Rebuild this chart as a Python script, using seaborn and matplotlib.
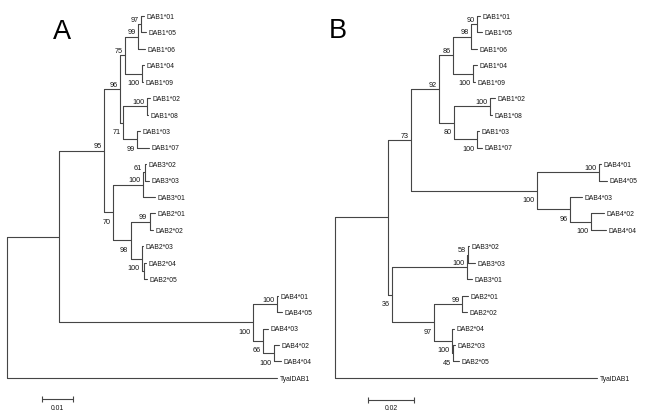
import matplotlib
matplotlib.use("Agg")
import matplotlib.pyplot as plt
import matplotlib.font_manager as fm
import numpy as np
import pandas as pd
import seaborn as sns

# ---------------- data: panel A (edge list, children in drawing order) ----------------
A_node = ["in", "n95", "n96", "n75", "n99a", "n97", "DAB1*01", "DAB1*05", "DAB1*06",
          "n100a", "DAB1*04", "DAB1*09", "n71", "n100b", "DAB1*02", "DAB1*08",
          "n99b", "DAB1*03", "DAB1*07", "n70", "n100c", "n61", "DAB3*02", "DAB3*03",
          "DAB3*01", "n98", "n99c", "DAB2*01", "DAB2*02", "n100d", "DAB2*03", "nX",
          "DAB2*04", "DAB2*05", "n100e", "n100f", "DAB4*01", "DAB4*05", "n66",
          "DAB4*03", "n100g", "DAB4*02", "DAB4*04", "TyalDAB1"]
A_parent = ["root", "in", "n95", "n96", "n75", "n99a", "n97", "n97", "n99a",
            "n75", "n100a", "n100a", "n96", "n71", "n100b", "n100b",
            "n71", "n99b", "n99b", "n95", "n70", "n100c", "n61", "n61",
            "n100c", "n70", "n98", "n99c", "n99c", "n98", "n100d", "n100d",
            "nX", "nX", "in", "n100e", "n100f", "n100f", "n100e",
            "n66", "n66", "n100g", "n100g", "root"]
A_length = [0.0165, 0.0142, 0.0051, 0.0016, 0.0041, 0.0009, 0.0009, 0.0016, 0.0022,
            0.0054, 0.0006, 0.0003, 0.0009, 0.0076, 0.0009, 0.0003,
            0.0044, 0.0009, 0.0038, 0.0028, 0.0095, 0.0006, 0.0003, 0.0013,
            0.0038, 0.0057, 0.0060, 0.0016, 0.0009, 0.0035, 0.0003, 0.0006,
            0.0006, 0.0009, 0.0614, 0.0076, 0.0003, 0.0016, 0.0032,
            0.0016, 0.0035, 0.0016, 0.0022, 0.0854]
A_support = [None, 95, 96, 75, 99, 97, None, None, None,
             100, None, None, 71, 100, None, None,
             99, None, None, 70, 100, 61, None, None,
             None, 98, 99, None, None, 100, None, None,
             None, None, 100, 100, None, None, 66,
             None, 100, None, None, None]
A_scale = 0.01
A_scale_label = "0.01"

# ---------------- data: panel B ----------------
B_node = ["in", "n73", "n92", "n86", "n98", "n90", "DAB1*01", "DAB1*05", "DAB1*06",
          "n100a", "DAB1*04", "DAB1*09", "n80", "n100b", "DAB1*02", "DAB1*08",
          "n100c", "DAB1*03", "DAB1*07", "n100d", "n100e", "DAB4*01", "DAB4*05",
          "n96", "DAB4*03", "n100f", "DAB4*02", "DAB4*04", "n36", "n100g", "n58",
          "DAB3*02", "DAB3*03", "DAB3*01", "n97", "n99", "DAB2*01", "DAB2*02",
          "n100h", "DAB2*04", "n45", "DAB2*03", "DAB2*05", "TyalDAB1"]
B_parent = ["root", "in", "n73", "n92", "n86", "n98", "n90", "n90", "n98",
            "n86", "n100a", "n100a", "n92", "n80", "n100b", "n100b",
            "n80", "n100c", "n100c", "n73", "n100d", "n100e", "n100e",
            "n100d", "n96", "n96", "n100f", "n100f", "in", "n36", "n100g",
            "n58", "n58", "n100g", "n36", "n97", "n99", "n99",
            "n97", "n100h", "n100h", "n45", "n45", "root"]
B_length = [0.0232, 0.0101, 0.0123, 0.0061, 0.0079, 0.0026, 0.0013, 0.0022, 0.0026,
            0.0088, 0.0018, 0.0009, 0.0066, 0.0158, 0.0022, 0.0009,
            0.0101, 0.0009, 0.0022, 0.0551, 0.0271, 0.0009, 0.0035,
            0.0144, 0.0053, 0.0092, 0.0057, 0.0066, 0.0018, 0.0328, 0.0004,
            0.0004, 0.0031, 0.0022, 0.0184, 0.0123, 0.0026, 0.0022,
            0.0079, 0.0009, 0.0004, 0.0009, 0.0026, 0.1147]
B_support = [None, 73, 92, 86, 98, 90, None, None, None,
             100, None, None, 80, 100, None, None,
             100, None, None, 100, 100, None, None,
             96, None, 100, None, None, 36, 100, 58,
             None, None, None, 97, 99, None, None,
             100, None, 45, None, None, None]
B_scale = 0.02
B_scale_label = "0.02"

# ---------------- style ----------------
sns.set_style("white")
LINE = "#454545"
TEXT = "#151515"


def has_font(name):
    try:
        fm.findfont(fm.FontProperties(family=name), fallback_to_default=False)
        return True
    except Exception:
        return False


if has_font("Liberation Sans Narrow"):
    SMALL_FAMILY = ["Liberation Sans Narrow", "Liberation Sans", "DejaVu Sans"]
else:
    SMALL_FAMILY = ["Liberation Sans", "DejaVu Sans"]
plt.rcParams["font.family"] = SMALL_FAMILY

W, H = 656, 418
PX = 72.0 / 100.0  # points per pixel at dpi 100
fig = plt.figure(figsize=(W / 100, H / 100), dpi=100)
fig.patch.set_facecolor("white")
renderer = fig.canvas.get_renderer()


def fit_size(sample, target_px):
    t = fig.text(0, 0, sample, fontsize=10)
    w = t.get_window_extent(renderer=renderer).width
    t.remove()
    return 10.0 * target_px / w


TIP_FS = min(fit_size("DAB1*01", 27.5), 6.0)
SUP_FS = min(fit_size("100", 12.0), 6.3)

TOP, STEP = 16.0, 16.45  # first tip pixel row, tip spacing in px


def layout(nodes, parents, lengths):
    children = {}
    for n, p in zip(nodes, parents):
        children.setdefault(p, []).append(n)
    blen = dict(zip(nodes, lengths))
    x, y = {}, {}
    counter = [0]

    def walk(n, x0):
        x[n] = x0
        kids = children.get(n, [])
        if not kids:
            y[n] = float(counter[0])
            counter[0] += 1
        else:
            for k in kids:
                walk(k, x0 + blen[k])
            y[n] = (y[kids[0]] + y[kids[-1]]) / 2.0
    walk("root", 0.0)
    return x, y, children


def draw_tree(ax, nodes, parents, lengths, supports, scale, scale_label,
              px_per_unit, root_px, ax_left_px, ax_w_px, bar_start, bar_row):
    x, y, children = layout(nodes, parents, lengths)
    rows = []
    sid = 0
    for n, p in zip(nodes, parents):
        rows += [(sid, x[p], y[n]), (sid, x[n], y[n])]
        sid += 1
    for p, kids in children.items():
        if len(kids) > 1:
            rows += [(sid, x[p], y[kids[0]]), (sid, x[p], y[kids[-1]])]
            sid += 1
    df = pd.DataFrame(rows, columns=["seg", "x", "y"])
    sns.lineplot(data=df, x="x", y="y", units="seg", estimator=None, sort=False,
                 color=LINE, lw=0.8, ax=ax, legend=False)

    # tip labels
    for n in nodes:
        if n not in children:
            ax.annotate(n, (x[n], y[n]), xytext=(2.5 * PX, -2.9 * PX),
                        textcoords="offset points", ha="left", va="baseline",
                        fontsize=TIP_FS, color=TEXT)
    # support values
    for n, p, s in zip(nodes, parents, supports):
        if s is None:
            continue
        first = children[p][0] == n
        dy = 2.3 * PX if first else -11.5 * PX
        ax.annotate(str(s), (x[n], y[n]), xytext=(-2.5 * PX, dy),
                    textcoords="offset points", ha="right", va="baseline",
                    fontsize=SUP_FS, color=TEXT)

    # scale bar
    ax.plot([bar_start, bar_start + scale], [bar_row, bar_row], color=LINE, lw=0.8,
            solid_capstyle="butt")
    ax.plot([bar_start, bar_start + scale], [bar_row, bar_row], ls="none",
            marker="|", ms=3.8, mew=0.8, color=LINE)
    ax.annotate(scale_label, (bar_start + scale / 2, bar_row), xytext=(0, -10.5 * PX),
                textcoords="offset points", ha="center", va="baseline",
                fontsize=TIP_FS, color=TEXT)

    ax.set_xlim((ax_left_px - root_px) / px_per_unit,
                (ax_left_px + ax_w_px - root_px) / px_per_unit)
    ax.set_ylim((H - TOP) / STEP, -TOP / STEP)
    ax.axis("off")


half = W / 2
axA = fig.add_axes([0, 0, half / W, 1])
axB = fig.add_axes([half / W, 0, half / W, 1])

draw_tree(axA, A_node, A_parent, A_length, A_support, A_scale, A_scale_label,
          px_per_unit=3160.0, root_px=7.0, ax_left_px=0.0, ax_w_px=half,
          bar_start=0.0110, bar_row=(399 - TOP) / STEP)
draw_tree(axB, B_node, B_parent, B_length, B_support, B_scale, B_scale_label,
          px_per_unit=2285.0, root_px=335.0, ax_left_px=half, ax_w_px=half,
          bar_start=0.0146, bar_row=(400 - TOP) / STEP)

fig.text(53 / W, 1 - 39 / H, "A", fontsize=19.5, family=["Liberation Sans", "DejaVu Sans"],
         ha="left", va="baseline", color="black")
fig.text(329 / W, 1 - 38 / H, "B", fontsize=19.5, family=["Liberation Sans", "DejaVu Sans"],
         ha="left", va="baseline", color="black")

fig.savefig("out.png", dpi=100, facecolor="white")
